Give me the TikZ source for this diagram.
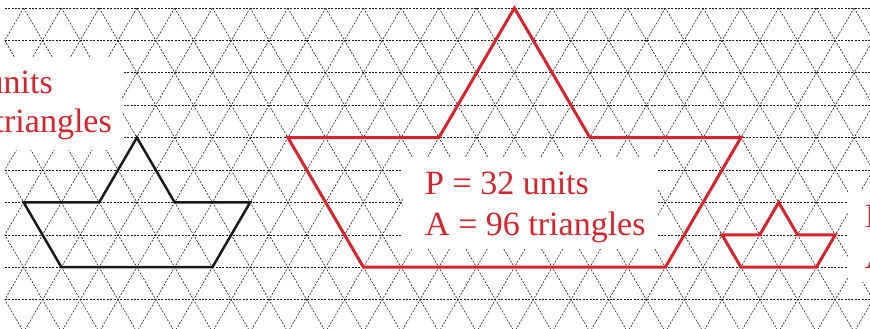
\documentclass[tikz,border=0pt]{standalone}
\usepackage{fontspec}
\setmainfont{Liberation Serif}
\definecolor{figred}{RGB}{214,36,44}
\newcommand\gv[3]{\coordinate (#1) at ({514.4+37.75*(#2)},{8+32.4*(#3)});}
\begin{document}
\begin{tikzpicture}[x=1pt,y=-1pt,
  gridline/.style={black!90, line width=0.6pt, dash pattern=on 2pt off 1.4pt},
  blackshape/.style={black!90, line width=2.5pt, line join=miter},
  redshape/.style={figred, line width=3pt, line join=miter},
  lbl/.style={text=figred, font=\fontsize{34}{40}\selectfont, inner sep=0pt, anchor=base west},
  mask/.style={fill=white, draw=none}]
\useasboundingbox (0,0) rectangle (870,329);
% triangular grid
\begin{scope}
  \clip (4.8,7) rectangle (872,330);
  \foreach \k in {0,...,9}
    \draw[gridline] (4.8,{8+32.4*\k}) -- (872,{8+32.4*\k});
  \foreach \c in {-13,...,14}
    \draw[gridline] ({514.4+37.75*\c},8) -- ({514.4+37.75*(\c-5)},332);
  \foreach \d in {-18,...,10}
    \draw[gridline] ({514.4+37.75*\d},8) -- ({514.4+37.75*(\d+5)},332);
\end{scope}
% white panels behind the labels
\fill[mask] (-5,57) rectangle (122,150);
\fill[mask] (403,157) rectangle (658,249);
\fill[mask] (848,189) rectangle (875,282);
% black figure
\gv{b1}{-13}{6}\gv{b2}{-11}{6}\gv{b3}{-10}{4}\gv{b4}{-9}{6}
\gv{b5}{-7}{6}\gv{b6}{-8}{8}\gv{b7}{-12}{8}
\draw[blackshape] (b1) -- (b2) -- (b3) -- (b4) -- (b5) -- (b6) -- (b7) -- cycle;
% large red figure
\gv{r1}{-6}{4}\gv{r2}{-2}{4}\gv{r3}{0}{0}\gv{r4}{2}{4}
\gv{r5}{6}{4}\gv{r6}{4}{8}\gv{r7}{-4}{8}
\draw[redshape] (r1) -- (r2) -- (r3) -- (r4) -- (r5) -- (r6) -- (r7) -- cycle;
% small red figure
\gv{s1}{5.5}{7}\gv{s2}{6.5}{7}\gv{s3}{7}{6}\gv{s4}{7.5}{7}
\gv{s5}{8.5}{7}\gv{s6}{8}{8}\gv{s7}{6}{8}
\draw[redshape] (s1) -- (s2) -- (s3) -- (s4) -- (s5) -- (s6) -- (s7) -- cycle;
% labels
\node[lbl, anchor=base east] (u1) at (53,93) {units};
\node[lbl, anchor=base east] (t1) at (112,132) {triangles};
\node[lbl] (p2) at (425,194) {P = 32 units};
\node[lbl] (a2) at (425,235) {A = 96 triangles};
\node[lbl] (p3) at (865,227) {P};
\node[lbl] (a3) at (865,268) {A};
\end{tikzpicture}
\end{document}
